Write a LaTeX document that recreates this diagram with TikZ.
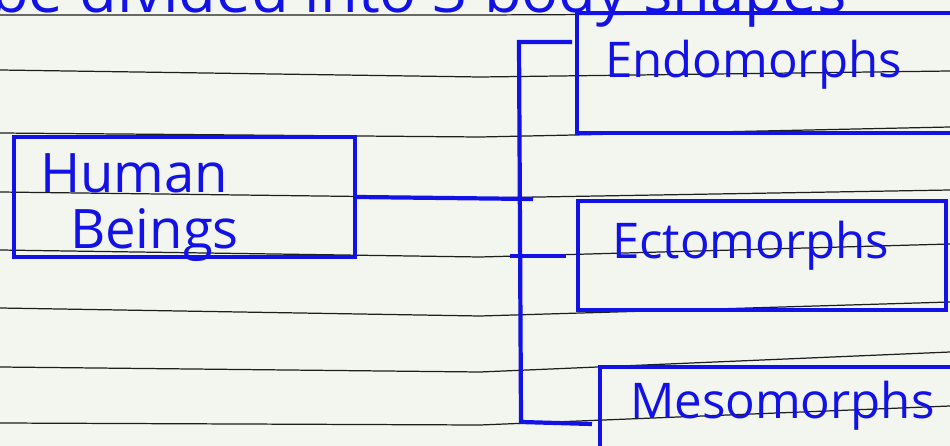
\documentclass[tikz,border=0pt]{standalone}
\usepackage{fontspec}
\setmainfont{Open Sans}
\usetikzlibrary{positioning}
\definecolor{inkblue}{HTML}{1212E6}
\definecolor{paperwhite}{HTML}{F3F5EF}
\definecolor{ruleblack}{HTML}{1E1E1E}

\begin{document}
\begin{tikzpicture}[x=0.02cm, y=-0.02cm,
    inkline/.style={draw=inkblue, line width=2.4pt},
    shapebox/.style={inkline, text=inkblue, align=left, font=\fontsize{28}{30}\selectfont},
    ruling/.style={draw=ruleblack, line width=0.7pt}]
  \useasboundingbox[fill=paperwhite] (0,0) rectangle (950,446);

  % ruled lines of the page
  \draw[ruling] (0,15) -- (480,15) -- (950,13);
  \draw[ruling] (0,70) -- (480,77) -- (950,71);
  \draw[ruling] (0,133) -- (480,137) -- (950,127);
  \draw[ruling] (0,192) -- (480,198) -- (950,190);
  \draw[ruling] (0,250) -- (480,257) -- (950,244);
  \draw[ruling] (0,308) -- (480,316) -- (950,302);
  \draw[ruling] (0,367) -- (480,372) -- (950,352);
  \draw[ruling] (0,423) -- (480,425) -- (950,406);

  \node[anchor=base west, text=inkblue, font=\fontsize{35}{37}\selectfont] (heading) at (-15,13) {be divided into 3 body shapes};

  \node[shapebox, font=\fontsize{31}{32}\selectfont, minimum width=6.82cm, minimum height=2.4cm,
        inner xsep=0.52cm, inner ysep=0pt, text width=5.78cm, text height=0.8cm, text depth=1cm]
        (human) at (184.5,197) {Human\\\hspace*{0.6cm}Beings};

  \node[shapebox, minimum width=8.06cm, minimum height=2.4cm, inner xsep=0.56cm, text width=6.94cm,
        text height=0.7cm, text depth=0.5cm] (endo) at (778.5,73) {Endomorphs};
  \node[shapebox, minimum width=7.36cm, minimum height=2.18cm, inner xsep=0.68cm, text width=6cm,
        text height=0.7cm, text depth=0.6cm] (ecto) at (762,255.5) {Ectomorphs};
  \node[shapebox, minimum width=7.6cm, minimum height=2.26cm, inner xsep=0.6cm, text width=6.4cm,
        text height=0.7cm, text depth=0.92cm] (meso) at (790,423.5) {Mesomorphs};

  % bracket
  \coordinate (join) at (533,199);
  \coordinate (brtop) at (519,42);
  \coordinate (brtopend) at (572,42);
  \coordinate (brbot) at (521,422);
  \coordinate (brbotend) at (592,424);
  \coordinate (brmid) at (510,256);
  \coordinate (brmidend) at (566,256);
  \draw[inkline] (human.east) -- (join);
  \draw[inkline] (brtopend) -- (brtop) -- (brbot) -- (brbotend);
  \draw[inkline] (brmid) -- (brmidend);
\end{tikzpicture}
\end{document}
